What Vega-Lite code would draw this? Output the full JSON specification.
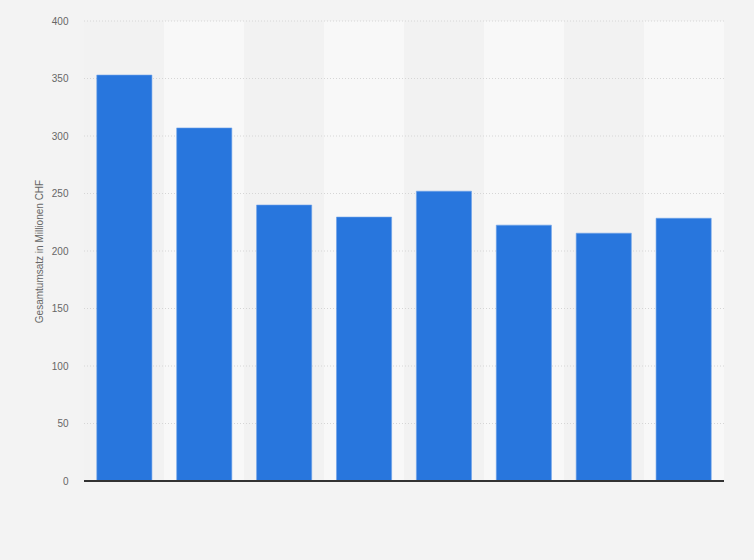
{
  "$schema": "https://vega.github.io/schema/vega-lite/v6.json",
  "width": 640,
  "height": 460,
  "autosize": "none",
  "padding": {"left": 84, "top": 21, "right": 30, "bottom": 79},
  "background": "#f3f3f3",
  "config": {
    "view": {"stroke": null},
    "font": "Arial, Liberation Sans, sans-serif"
  },
  "datasets": {
    "umsatz": [
      {"jahr": "2012", "umsatz": 353},
      {"jahr": "2013", "umsatz": 307},
      {"jahr": "2014", "umsatz": 240},
      {"jahr": "2015", "umsatz": 229.5},
      {"jahr": "2016", "umsatz": 252},
      {"jahr": "2017", "umsatz": 222.5},
      {"jahr": "2018", "umsatz": 215.5},
      {"jahr": "2019", "umsatz": 228.5}
    ],
    "raster": [
      {"wert": 50}, {"wert": 100}, {"wert": 150}, {"wert": 200},
      {"wert": 250}, {"wert": 300}, {"wert": 350}, {"wert": 400}
    ]
  },
  "data": {"name": "umsatz"},
  "layer": [
    {
      "mark": {"type": "rect"},
      "encoding": {
        "x": {"field": "jahr", "type": "nominal", "scale": {"paddingInner": 0, "paddingOuter": 0}, "axis": null},
        "y": {
          "datum": 400,
          "type": "quantitative",
          "scale": {"domain": [0, 400]},
          "axis": {
            "title": "Gesamtumsatz in Millionen CHF",
            "titleFont": "Arial, Liberation Sans, sans-serif",
            "titleFontSize": 10,
            "titleFontWeight": "normal",
            "titleColor": "#666666",
            "titlePadding": 7,
            "values": [0, 50, 100, 150, 200, 250, 300, 350, 400],
            "labelColor": "#666666",
            "labelFontSize": 10,
            "labelPadding": 16,
            "domain": false,
            "ticks": false,
            "grid": false
          }
        },
        "y2": {"datum": 0},
        "color": {
          "field": "jahr",
          "type": "nominal",
          "legend": null,
          "scale": {"range": ["#f2f2f2", "#f8f8f8", "#f2f2f2", "#f8f8f8", "#f2f2f2", "#f8f8f8", "#f2f2f2", "#f8f8f8"]}
        }
      }
    },
    {
      "layer": [
        {
          "data": {"name": "raster"},
          "mark": {"type": "rule", "color": "#d6d6d6", "strokeDash": [1, 2], "strokeWidth": 1},
          "encoding": {"y": {"field": "wert", "type": "quantitative"}}
        },
        {
          "mark": {"type": "bar", "color": "#2876dd", "stroke": "#6fa3ea", "strokeWidth": 0.6},
          "encoding": {
            "x": {"field": "jahr", "type": "nominal", "scale": {"paddingInner": 0.31, "paddingOuter": 0.16}, "axis": null},
            "y": {"field": "umsatz", "type": "quantitative"}
          }
        },
        {
          "mark": {"type": "rule", "color": "#333333", "strokeWidth": 1.2},
          "encoding": {"y": {"datum": 0, "type": "quantitative"}}
        }
      ]
    }
  ],
  "resolve": {"scale": {"x": "independent", "color": "independent"}}
}
